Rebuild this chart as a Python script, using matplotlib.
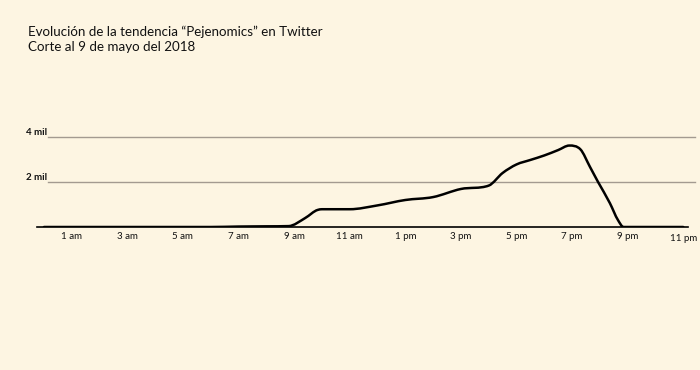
import matplotlib
matplotlib.use("Agg")
import matplotlib.pyplot as plt
import numpy as np
from matplotlib.path import Path
from matplotlib.patches import PathPatch

# horas del dia (0 = medianoche) y menciones
horas = [0, 1, 2, 3, 4, 5, 6, 7, 8, 8.8, 9.4, 9.85, 10, 11, 12, 13, 14, 15, 16,
         16.5, 17, 17.5, 18, 18.5, 18.9, 19.3, 19.64, 19.93, 20.36, 20.65, 20.85,
         21, 22, 23]
menciones = [0, 0, 0, 0, 0, 0, 0, 20, 30, 40, 400, 760, 790, 790, 960, 1200,
             1330, 1690, 1840, 2400, 2780, 2980, 3180, 3420, 3620, 3450, 2680,
             2010, 1060, 310, 0, 0, 0, 0]

tick_horas = [1, 3, 5, 7, 9, 11, 13, 15, 17, 19, 21, 23]
tick_labels = ["1 am", "3 am", "5 am", "7 am", "9 am", "11 am",
               "1 pm", "3 pm", "5 pm", "7 pm", "9 pm", "11 pm"]
niveles = [2000, 4000]
niveles_labels = ["2 mil", "4 mil"]

bg = "#fdf5e2"
plt.rcParams["font.family"] = ["Lato", "DejaVu Sans"]


def curva_monotona(x, y):
    # trazo suave tipo d3.curveMonotoneX con curvas de Bezier
    x = np.asarray(x, float)
    y = np.asarray(y, float)
    h = np.diff(x)
    d = np.diff(y) / h
    m = np.zeros_like(y)
    m[0], m[-1] = d[0], d[-1]
    for i in range(1, len(y) - 1):
        if d[i - 1] * d[i] <= 0:
            m[i] = 0
        else:
            m[i] = (h[i - 1] * d[i] + h[i] * d[i - 1]) / (h[i - 1] + h[i])
            m[i] = np.sign(m[i]) * min(abs(m[i]), 3 * abs(d[i - 1]), 3 * abs(d[i]))
    verts = [(x[0], y[0])]
    codes = [Path.MOVETO]
    for i in range(len(h)):
        verts += [(x[i] + h[i] / 3, y[i] + m[i] * h[i] / 3),
                  (x[i + 1] - h[i] / 3, y[i + 1] - m[i + 1] * h[i] / 3),
                  (x[i + 1], y[i + 1])]
        codes += [Path.CURVE4] * 3
    return Path(verts, codes)


fig = plt.figure(figsize=(7, 3.7), dpi=100, facecolor=bg)
ax = fig.add_axes([37 / 700, 1 - 227 / 370, 651 / 700, (227 - 125.75) / 370])
ax.set_facecolor(bg)

for nivel, lab in zip(niveles, niveles_labels):
    ax.axhline(nivel, xmin=0.017, xmax=1.011, color="#a39a90", lw=1,
               clip_on=False, zorder=1)
    ax.text(0.016, nivel, lab, transform=ax.get_yaxis_transform(),
            ha="right", va="bottom", fontsize=7, fontweight="bold",
            color="#111111")

ax.add_patch(PathPatch(curva_monotona(horas, menciones), fill=False,
                       edgecolor="black", lw=1.8, zorder=3,
                       capstyle="round", joinstyle="round"))

ax.set_xlim(-0.25, 23.17)
ax.set_ylim(0, 4500)

for s in ["top", "right", "left"]:
    ax.spines[s].set_visible(False)
ax.spines["bottom"].set_color("black")
ax.spines["bottom"].set_linewidth(1.2)
ax.set_yticks([])
ax.set_xticks(tick_horas)
ax.set_xticklabels(tick_labels, fontsize=7, color="#111111")
ax.tick_params(axis="x", length=0, pad=3.5)
ax.get_xticklabels()[-1].set_y(-0.02)

fig.text(28 / 700, 1 - 32 / 370, "Evolución de la tendencia “Pejenomics” en Twitter",
         fontsize=9.6, va="center", ha="left", color="#111111")
fig.text(28 / 700, 1 - 47 / 370, "Corte al 9 de mayo del 2018",
         fontsize=9.6, va="center", ha="left", color="#111111")

fig.savefig("out.png", dpi=100, facecolor=bg)
